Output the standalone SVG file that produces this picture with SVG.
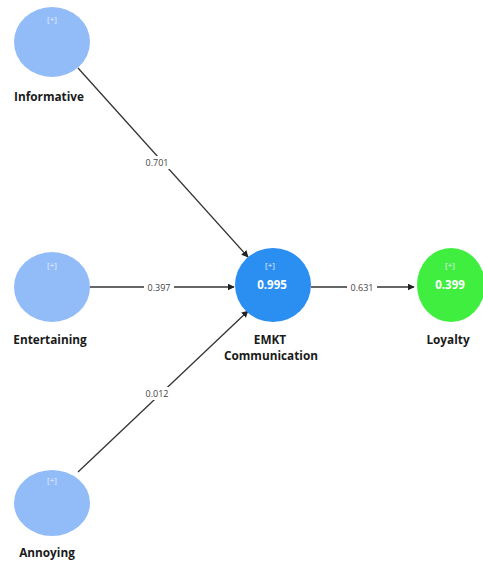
<svg xmlns="http://www.w3.org/2000/svg" width="483" height="563" viewBox="0 0 483 563">
<style>
.lat{fill:#92bcf8}
.lbl{font-family:"Open Sans","Noto Sans",sans-serif;font-weight:bold;font-size:11.8px;fill:#1a1a1a;text-anchor:middle}
.plus{font-family:"Open Sans","Noto Sans",sans-serif;font-size:8px;fill:#e8f0ff;text-anchor:middle}
.val{font-family:"Open Sans","Noto Sans",sans-serif;font-weight:bold;font-size:11.5px;fill:#ffffff;text-anchor:middle}
.edge{stroke:#333;stroke-width:1.3;fill:none;marker-end:url(#ah)}
.coef{font-family:"Open Sans","Noto Sans",sans-serif;font-size:9px;fill:#444;text-anchor:middle}
.bg{fill:#fff}
</style>
<defs>
<marker id="ah" viewBox="0 0 10 10" refX="9" refY="5" markerWidth="7" markerHeight="7" orient="auto" markerUnits="userSpaceOnUse">
<path d="M0,0 L10,5 L0,10 z" fill="#222"/>
</marker>
</defs>
<rect width="483" height="563" fill="#fff"/>
<g id="connectors">
<line class="edge" x1="78" y1="68" x2="248" y2="257"/>
<rect class="bg" x="142" y="156" width="30" height="13"/>
<text class="coef" x="157" y="166">0.701</text>
<line class="edge" x1="90" y1="287" x2="234" y2="287"/>
<rect class="bg" x="144" y="281" width="30" height="13"/>
<text class="coef" x="159" y="291">0.397</text>
<line class="edge" x1="78" y1="472" x2="248" y2="311"/>
<rect class="bg" x="142" y="387" width="30" height="13"/>
<text class="coef" x="157" y="397">0.012</text>
<line class="edge" x1="311" y1="287" x2="414" y2="287"/>
<rect class="bg" x="347" y="281" width="30" height="13"/>
<text class="coef" x="362" y="291">0.631</text>
</g>
<g id="informative">
<ellipse class="lat" cx="52" cy="42" rx="38" ry="35"/>
<text class="plus" x="52" y="22">[+]</text>
<text class="lbl" x="49" y="101">Informative</text>
</g>
<g id="entertaining">
<ellipse class="lat" cx="52" cy="287" rx="38" ry="35"/>
<text class="plus" x="52" y="268">[+]</text>
<text class="lbl" x="50" y="344">Entertaining</text>
</g>
<g id="annoying">
<ellipse class="lat" cx="52" cy="503" rx="38" ry="33"/>
<text class="plus" x="52" y="483">[+]</text>
<text class="lbl" x="47" y="557">Annoying</text>
</g>
<g id="emkt">
<ellipse cx="273" cy="285" rx="38" ry="37" fill="#2b8ff2"/>
<text class="plus" x="270" y="268">[+]</text>
<text class="val" x="272" y="289">0.995</text>
<text class="lbl" x="270" y="344">EMKT</text>
<text class="lbl" x="271" y="360">Communication</text>
</g>
<g id="loyalty">
<ellipse cx="451" cy="285" rx="34" ry="37" fill="#40ee40"/>
<text class="plus" x="450" y="268">[+]</text>
<text class="val" x="450" y="289">0.399</text>
<text class="lbl" x="448" y="344">Loyalty</text>
</g>
</svg>
